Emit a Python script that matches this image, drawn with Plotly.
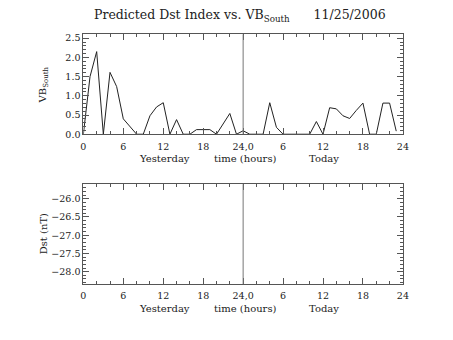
import plotly.graph_objects as go

hours = list(range(48))
vb_south = [0.0, 1.5, 2.15, 0.0, 1.61, 1.24, 0.4, 0.2, 0.0, 0.0,
            0.48, 0.71, 0.82, 0.0, 0.38, 0.0, 0.0, 0.12, 0.12, 0.12,
            0.0, 0.26, 0.54, 0.0, 0.09, 0.0, 0.0, 0.0, 0.82, 0.18,
            0.0, 0.0, 0.0, 0.0, 0.0, 0.33, 0.0, 0.69, 0.66, 0.48,
            0.41, 0.62, 0.81, 0.0, 0.0, 0.81, 0.81, 0.08]
dst_hours = []
dst_values = []
x_tickvals = [0, 6, 12, 18, 24, 30, 36, 42, 48]
x_ticktext = ["0", "6", "12", "18", "24,0", "6", "12", "18", "24"]
vb_ticks = [0.0, 0.5, 1.0, 1.5, 2.0, 2.5]
dst_ticks = [-26.0, -26.5, -27.0, -27.5, -28.0]

FONT = "DejaVu Serif"
W, H = 453, 340

def px_x(p):
    return p / W

def px_y(p):
    return 1 - p / H

fig = go.Figure()
fig.add_trace(go.Scatter(x=hours, y=vb_south, mode="lines",
                         line=dict(color="#222222", width=1),
                         xaxis="x", yaxis="y", showlegend=False))
fig.add_trace(go.Scatter(x=dst_hours, y=dst_values, mode="lines",
                         line=dict(color="#222222", width=1),
                         xaxis="x2", yaxis="y2", showlegend=False))

axis_common = dict(showline=True, linecolor="#555555", linewidth=1, mirror="allticks",
                   ticks="inside", ticklen=6, tickcolor="#555555", showgrid=False,
                   zeroline=False, tickfont=dict(family=FONT, size=9.5, color="#222222"))

xdom = [px_x(82), px_x(408)]
fig.update_layout(
    width=W, height=H, margin=dict(l=0, r=0, t=0, b=0),
    paper_bgcolor="white", plot_bgcolor="white",
    xaxis=dict(domain=xdom, range=[0, 48], tickvals=x_tickvals, ticktext=x_ticktext,
               anchor="y", ticklabelstandoff=3,
               minor=dict(ticks="inside", dtick=2, ticklen=3, tickcolor="#555555"),
               **axis_common),
    yaxis=dict(domain=[px_y(135), px_y(33)], range=[0, 2.6], tickvals=vb_ticks,
               tickformat=".1f", anchor="x",
               minor=dict(ticks="inside", dtick=0.1, ticklen=3, tickcolor="#555555"),
               **axis_common),
    xaxis2=dict(domain=xdom, range=[0, 48], tickvals=x_tickvals, ticktext=x_ticktext,
                anchor="y2", ticklabelstandoff=3,
                minor=dict(ticks="inside", dtick=2, ticklen=3, tickcolor="#555555"),
                **axis_common),
    yaxis2=dict(domain=[px_y(288), px_y(186)], range=[-28.34, -25.6], tickvals=dst_ticks,
                tickformat=".1f", anchor="x2",
                minor=dict(ticks="inside", dtick=0.1, ticklen=3, tickcolor="#555555"),
                **axis_common),
)

# vertical divider at 24 h
for xa, ya in (("x", "y"), ("x2", "y2")):
    fig.add_shape(type="line", xref=xa, yref=f"{ya} domain", x0=24, x1=24, y0=0, y1=1,
                  line=dict(color="#777777", width=1))

txt = dict(family=FONT, size=10, color="#222222")
annotations = [
    dict(text="Predicted Dst Index vs. VB<sub>South</sub>      11/25/2006", x=px_x(242), y=px_y(14),
         font=dict(family=FONT, size=12.5, color="#222222")),
    dict(text="VB<sub>South</sub>", x=px_x(41), y=px_y(85), textangle=-90, font=txt),
    dict(text="Dst (nT)", x=px_x(41), y=px_y(237), textangle=-90, font=txt),
]
for yl in (159.5, 312.5):
    annotations += [
        dict(text="Yesterday", x=px_x(165), y=px_y(yl), font=txt),
        dict(text="time (hours)", x=px_x(247), y=px_y(yl), font=txt),
        dict(text="Today", x=px_x(327), y=px_y(yl), font=txt),
    ]
for a in annotations:
    a.update(xref="paper", yref="paper", showarrow=False, xanchor="center", yanchor="middle")
    fig.add_annotation(**a)

fig.write_html("out.html")
